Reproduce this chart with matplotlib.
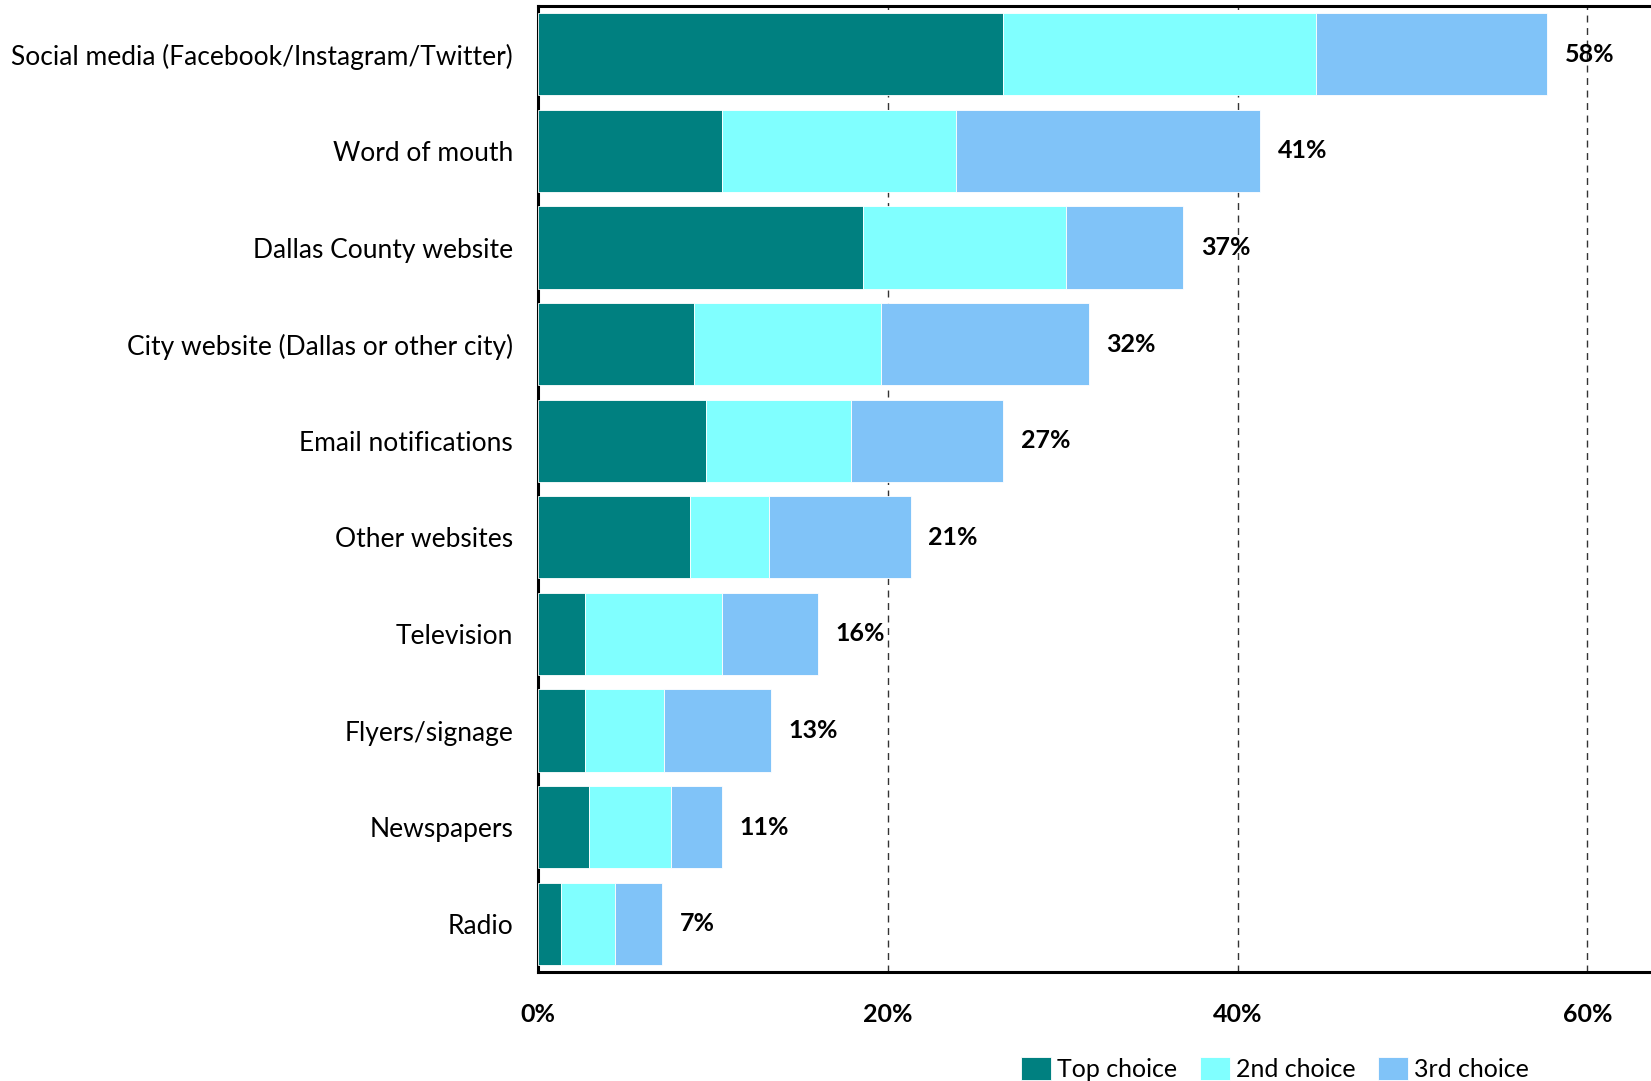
import matplotlib
matplotlib.use("Agg")
import matplotlib.pyplot as plt
import numpy as np

categories = ["Social media (Facebook/Instagram/Twitter)", "Word of mouth", "Dallas County website",
              "City website (Dallas or other city)", "Email notifications", "Other websites",
              "Television", "Flyers/signage", "Newspapers", "Radio"]
top_choice = [26.6, 10.5, 18.6, 8.9, 9.6, 8.7, 2.7, 2.7, 2.9, 1.3]
second_choice = [17.9, 13.4, 11.6, 10.7, 8.3, 4.5, 7.8, 4.5, 4.7, 3.1]
third_choice = [13.2, 17.4, 6.7, 11.9, 8.7, 8.1, 5.5, 6.1, 2.9, 2.7]
totals_labels = ["58%", "41%", "37%", "32%", "27%", "21%", "16%", "13%", "11%", "7%"]
xticks = [0, 20, 40, 60]
xtick_labels = ["0%", "20%", "40%", "60%"]
series_names = ["Top choice", "2nd choice", "3rd choice"]
colors = ["#008080", "#80FFFF", "#80C3F8"]

plt.rcParams['font.family'] = ['Lato', 'DejaVu Sans']

fig = plt.figure(figsize=(16.51, 10.81), dpi=100)
ax = fig.add_axes([0.3259, 0.1008, 0.68, 0.8936])

y = np.arange(len(categories))
left = np.zeros(len(categories))
for vals, name, c in zip([top_choice, second_choice, third_choice], series_names, colors):
    ax.barh(y, vals, left=left, height=0.85, color=c, label=name, edgecolor='white', linewidth=0.6, zorder=3)
    left = left + np.array(vals)

for yi, tot, lab in zip(y, left, totals_labels):
    ax.text(tot + 1.0, yi, lab, va='center', ha='left', fontsize=18, fontweight='bold', zorder=4)

ax.set_ylim(len(categories) - 0.5, -0.5)
ax.set_xlim(0, 64.2)
ax.set_yticks(y)
ax.set_yticklabels(categories, fontsize=19)
ax.set_xticks(xticks)
ax.set_xticklabels(xtick_labels, fontsize=18, fontweight='bold')
ax.tick_params(axis='both', length=0)
ax.tick_params(axis='y', pad=18)
ax.tick_params(axis='x', pad=22)

for xv in xticks[1:]:
    ax.axvline(xv, color='#333333', linestyle=(0, (5, 4)), linewidth=1.0, zorder=1)

for s in ['top', 'bottom', 'left']:
    ax.spines[s].set_linewidth(2.2)
    ax.spines[s].set_color('black')
ax.spines['right'].set_visible(False)

leg = fig.legend(loc='center', bbox_to_anchor=(1275 / 1651, 1 - 1069 / 1081), ncol=3, frameon=False,
                 fontsize=18, handlelength=1.2, handleheight=1.0, handletextpad=0.25, columnspacing=0.9,
                 borderaxespad=0)

fig.savefig("out.png", dpi=100)
